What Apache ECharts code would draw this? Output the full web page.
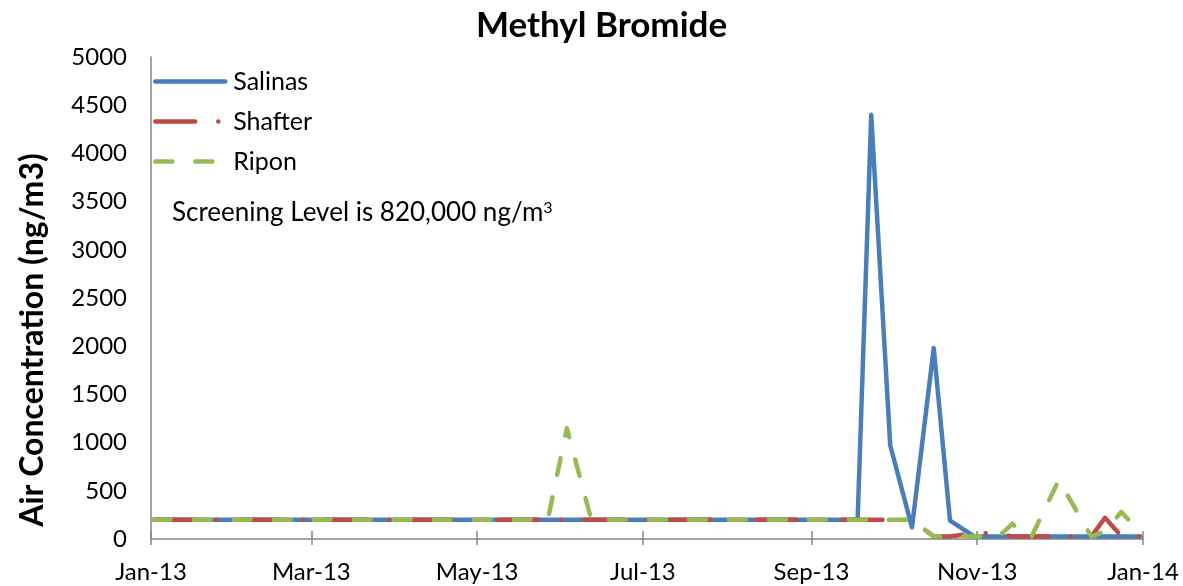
<!DOCTYPE html>
<html>
<head>
<meta charset="utf-8">
<title>Methyl Bromide</title>
<script src="https://cdn.jsdelivr.net/npm/echarts@6/dist/echarts.min.js"></script>
<style>
  html, body { margin: 0; padding: 0; background: #fff; }
  #container { width: 1183px; height: 586px; }
</style>
</head>
<body>
<div id="container"></div>
<script>
// sampling dates (shared by all three sites)
var sampleDates = [
    '2013-01-02', '2013-01-16', '2013-01-30', '2013-02-13', '2013-02-27', '2013-03-13',
    '2013-03-27', '2013-04-10', '2013-04-24', '2013-05-08', '2013-05-20', '2013-05-27',
    '2013-06-03', '2013-06-12', '2013-06-26', '2013-07-10', '2013-07-24', '2013-08-07',
    '2013-08-21', '2013-09-04', '2013-09-18', '2013-09-23', '2013-09-30', '2013-10-08',
    '2013-10-16', '2013-10-22', '2013-10-31', '2013-11-09', '2013-11-14', '2013-11-18',
    '2013-11-21', '2013-12-01', '2013-12-13', '2013-12-18', '2013-12-24', '2013-12-31'
];

var salinas = [
    200, 200, 200, 200, 200, 200, 200, 200, 200, 200, 200, 200,
    200, 200, 200, 200, 200, 200, 200, 200, 200, 4400, 970, 120,
    1980, 190, 25, 25, 25, 25, 25, 25, 25, 25, 25, 25
];

var shafter = [
    200, 200, 200, 200, 200, 200, 200, 200, 200, 200, 200, 200,
    200, 200, 200, 200, 200, 200, 200, 200, 200, 200, 200, 200,
    25, 25, 60, 60, 25, 25, 25, 25, 25, 220, 30, 25
];

var ripon = [
    200, 200, 200, 200, 200, 200, 200, 200, 200, 200, 200, 200,
    1150, 200, 200, 200, 200, 200, 200, 200, 200, 200, 200, 200,
    25, 25, 25, 30, 160, 25, 25, 610, 25, 80, 280, 70
];

var tickDates = ['2013-01-01', '2013-03-01', '2013-05-01', '2013-07-01', '2013-09-01', '2013-11-01', '2014-01-01'];
var tickLabels = ['Jan-13', 'Mar-13', 'May-13', 'Jul-13', 'Sep-13', 'Nov-13', 'Jan-14'];

var FONT = 'Lato';
var tickTimes = tickDates.map(function (d) { return +echarts.time.parse(d); });

function pairs(values) {
    return sampleDates.map(function (d, i) {
        return [+echarts.time.parse(d), values[i]];
    });
}

function monthLabel(value) {
    for (var i = 0; i < tickTimes.length; i++) {
        if (Math.abs(tickTimes[i] - value) < 43200000) return tickLabels[i];
    }
    return '';
}

var dom = document.getElementById('container');
var myChart = echarts.init(dom);

var option = {
    animation: false,
    backgroundColor: '#fff',
    textStyle: { fontFamily: FONT },
    title: {
        text: 'Methyl Bromide',
        left: 476,
        top: 8,
        padding: 0,
        textStyle: { fontFamily: FONT, fontWeight: 'bold', fontSize: 35, color: '#000' }
    },
    legend: {
        orient: 'vertical',
        left: 153,
        top: 69,
        itemWidth: 70,
        itemHeight: 20,
        itemGap: 15,
        padding: 0,
        itemStyle: { opacity: 0 },
        lineStyle: { width: 4.5 },
        textStyle: { fontFamily: FONT, fontSize: 25, color: '#000', padding: [0, 0, 0, 3] },
        data: ['Salinas', 'Shafter', 'Ripon']
    },
    grid: { left: 151, right: 40, top: 57, bottom: 47 },
    graphic: [{
        type: 'text',
        left: 172,
        top: 200,
        style: {
            text: 'Screening Level is 820,000 ng/m{sup|3}',
            font: '26px ' + FONT,
            fill: '#000',
            rich: {
                sup: { fontSize: 16, fontFamily: FONT, verticalAlign: 'top', fill: '#000' }
            }
        }
    }],
    xAxis: [{
        type: 'value',
        min: tickTimes[0],
        max: tickTimes[tickTimes.length - 1],
        axisLine: { lineStyle: { color: '#868686', width: 1.5 } },
        axisTick: { show: true, length: 6, lineStyle: { color: '#868686', width: 1.5 }, customValues: tickTimes },
        axisLabel: {
            customValues: tickTimes,
            formatter: monthLabel,
            margin: 21,
            fontFamily: FONT,
            fontSize: 24,
            color: '#000'
        },
        splitLine: { show: false }
    }, {
        // inside half of the crossing tick marks
        type: 'value',
        min: tickTimes[0],
        max: tickTimes[tickTimes.length - 1],
        position: 'bottom',
        axisLine: { show: false },
        axisTick: { show: true, inside: true, length: 8, lineStyle: { color: '#868686', width: 1.5 }, customValues: tickTimes },
        axisLabel: { show: false },
        splitLine: { show: false }
    }],
    yAxis: {
        type: 'value',
        min: 0,
        max: 5000,
        interval: 500,
        name: 'Air Concentration (ng/m3)',
        nameLocation: 'middle',
        nameGap: 102,
        nameRotate: 90,
        nameTextStyle: { fontFamily: FONT, fontWeight: 'bold', fontSize: 32, color: '#000', padding: [0, 84, 0, 0] },
        axisLine: { show: true, lineStyle: { color: '#868686', width: 1.5 } },
        axisTick: { show: false },
        axisLabel: {
            margin: 24,
            fontFamily: FONT,
            fontSize: 24,
            color: '#000',
            formatter: function (v) { return String(v); }
        },
        splitLine: { show: false }
    },
    series: [{
        name: 'Salinas',
        type: 'line',
        symbol: 'none',
        data: pairs(salinas),
        itemStyle: { color: '#4A7EBB' },
        lineStyle: { color: '#4A7EBB', width: 4.5, cap: 'round', join: 'round' }
    }, {
        name: 'Shafter',
        type: 'line',
        symbol: 'none',
        data: pairs(shafter),
        itemStyle: { color: '#BE4B48' },
        lineStyle: { color: '#BE4B48', width: 4.5, type: [40, 23, 0.1, 23], cap: 'round', join: 'round' }
    }, {
        name: 'Ripon',
        type: 'line',
        symbol: 'none',
        data: pairs(ripon),
        itemStyle: { color: '#98B954' },
        lineStyle: { color: '#98B954', width: 4.5, type: [17, 23], cap: 'round', join: 'round' }
    }]
};

if (option && typeof option === 'object') {
    myChart.setOption(option, true);
}
</script>
</body>
</html>
